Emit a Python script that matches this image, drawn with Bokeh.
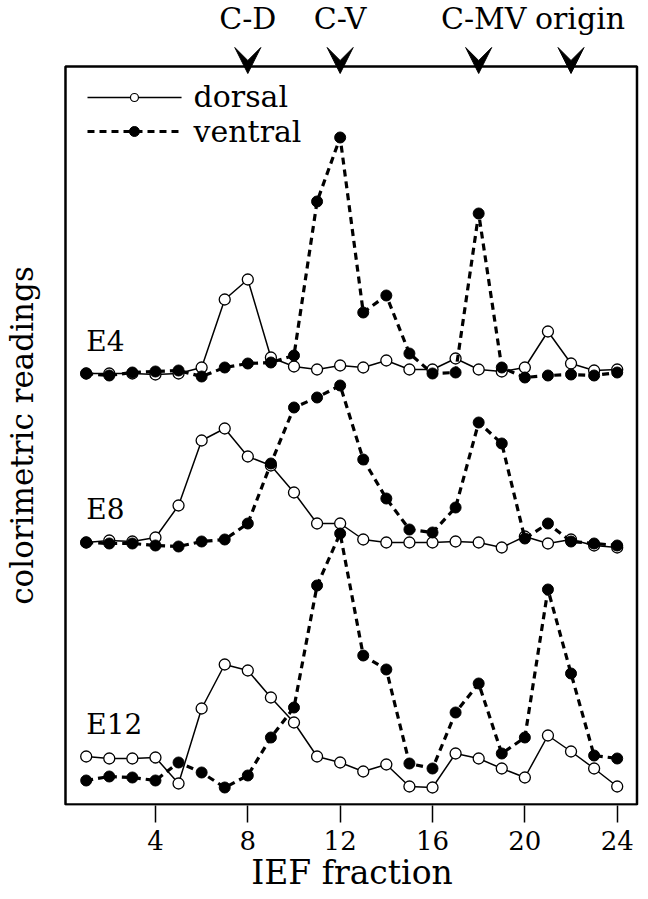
import math
from bokeh.plotting import figure
from bokeh.models import Range1d, FixedTicker, Arrow, VeeHead
from bokeh.core.properties import value
from bokeh.embed import file_html
from bokeh.resources import INLINE

FONT = "DejaVu Serif"

# ---------------- data ----------------
fractions = list(range(1, 25))
x_ticks = [4, 8, 12, 16, 20, 24]
stage_labels = ["E4", "E8", "E12"]
stage_offsets = [426, 255, 10]          # vertical stacking of the three stages

dorsal_E4 = [5, 5, 5, 4, 5, 11, 79, 99, 21, 12, 9, 13, 11, 18, 9, 9, 20, 9, 7, 11, 47, 15, 8, 9]
ventral_E4 = [5, 3, 6, 7, 8, 2, 11, 15, 16, 23, 177, 241, 66, 83, 25, 5, 6, 165, 11, 1, 3, 4, 3, 6]
dorsal_E8 = [7, 9, 8, 12, 44, 109, 121, 93, 84, 57, 26, 26, 10, 7, 7, 7, 8, 7, 2, 13, 6, 10, 4, 2]
ventral_E8 = [7, 6, 6, 4, 3, 8, 10, 26, 86, 142, 152, 164, 90, 51, 20, 17, 42, 127, 106, 11, 26, 8, 6, 4]
dorsal_E12 = [38, 36, 36, 37, 11, 86, 130, 124, 97, 72, 38, 32, 23, 30, 8, 7, 41, 36, 26, 17, 59, 43, 26, 8]
ventral_E12 = [14, 18, 17, 14, 32, 22, 7, 19, 57, 87, 209, 261, 139, 125, 31, 26, 82, 111, 41, 57, 205, 121, 39, 36]

dorsal = [dorsal_E4, dorsal_E8, dorsal_E12]
ventral = [ventral_E4, ventral_E8, ventral_E12]

marker_x = [8, 12, 18, 22]
marker_labels = ["C-D", "C-V", "C-MV", "origin"]

# ---------------- figure ----------------
p = figure(frame_width=640, frame_height=805,
           x_range=Range1d(-2.712, 25.009), y_range=Range1d(-1, 804),
           output_backend="svg", toolbar_location=None,
           min_border_left=0, min_border_right=0, min_border_top=0,
           min_border_bottom=90, y_axis_location=None)
p.grid.visible = False
p.outline_line_color = None
p.background_fill_color = "white"
p.border_fill_color = "white"

ax = p.xaxis[0]
ax.ticker = FixedTicker(ticks=x_ticks)
ax.axis_line_color = None
ax.major_tick_out = 17
ax.major_tick_in = 0
ax.major_tick_line_width = 1.5
ax.major_tick_line_color = "black"
ax.minor_tick_line_color = None
ax.major_label_text_font = FONT
ax.major_label_text_font_size = "26px"
ax.major_label_text_color = "black"
ax.major_label_standoff = 8
# label centred on the plot box (the frame is wider on the left)
ax.axis_label = "\u00a0" * 6 + "IEF fraction"
ax.axis_label_standoff = 0
ax.axis_label_text_font = FONT
ax.axis_label_text_font_size = "33px"
ax.axis_label_text_font_style = "normal"
ax.axis_label_text_color = "black"

# plot box
p.quad(left=[0.103], right=[24.857], bottom=[0], top=[738],
       fill_color=None, line_color="black", line_width=2.5)

# dorsal series (solid, open circles)
for off, d in zip(stage_offsets, dorsal):
    ys = [off + v for v in d]
    p.line(fractions, ys, line_color="black", line_width=1.5)
    p.scatter(fractions, ys, marker="circle", size=11, fill_color="white",
              line_color="black", line_width=1.3)

# ventral series (dashed, filled circles)
for off, v_ in zip(stage_offsets, ventral):
    ys = [off + v for v in v_]
    p.line(fractions, ys, line_color="black", line_width=3.2, line_dash="7 5")
    p.scatter(fractions, ys, marker="circle", size=11, fill_color="black",
              line_color="black")

# stage labels
p.text(x=[1.0] * 3, y=[463, 295, 80], text=stage_labels,
       text_align="left", text_baseline="alphabetic",
       text_font=value(FONT), text_font_size="28px", text_color="black")

# arrows + labels above the box
for xm in marker_x:
    p.add_layout(Arrow(end=VeeHead(size=26, fill_color="black", line_color="black"),
                       x_start=xm, y_start=771, x_end=xm, y_end=731, line_alpha=0))
p.text(x=marker_x, y=[786] * 4, text=marker_labels, x_offset=[0, 0, 5, 9],
       text_align="center", text_baseline="alphabetic",
       text_font=value(FONT), text_font_size="30px", text_color="black")

# legend
p.line([1.056, 5.13], [707, 707], line_color="black", line_width=1.5)
p.scatter([3.09], [707], marker="circle", size=8, fill_color="white",
          line_color="black", line_width=1.2)
p.line([1.056, 5.13], [673, 673], line_color="black", line_width=3.2, line_dash="7 5")
p.scatter([3.09], [673], marker="circle", size=10, fill_color="black", line_color="black")
p.text(x=[5.65, 5.65], y=[708, 673], text=["dorsal", "ventral"],
       text_align="left", text_baseline="alphabetic",
       text_font=value(FONT), text_font_size="30px", text_color="black")

# y axis title
p.text(x=[-1.76], y=[369], text=["colorimetric readings"], angle=math.pi / 2,
       text_align="center", text_baseline="middle",
       text_font=value(FONT), text_font_size="31px", text_color="black")

open("out.html", "w").write(file_html(p, INLINE))
